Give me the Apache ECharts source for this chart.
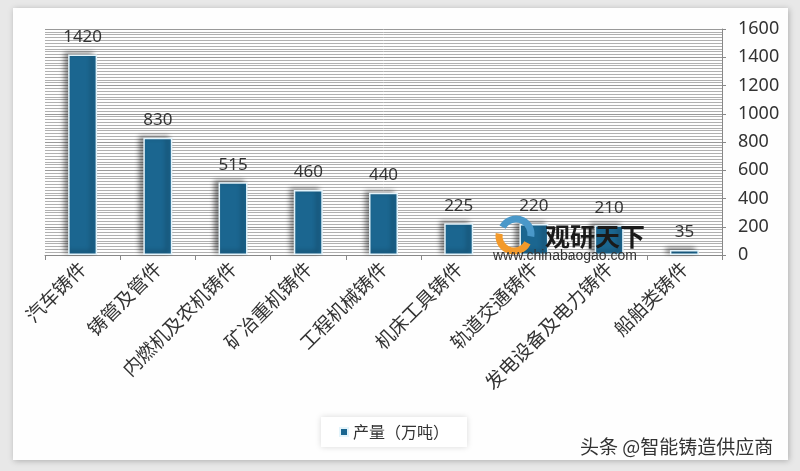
<!DOCTYPE html>
<html><head><meta charset="utf-8">
<script src="https://cdn.jsdelivr.net/npm/echarts@6/dist/echarts.min.js"></script>
<style>html,body{margin:0;padding:0;background:#e8e8e8;}#c{width:800px;height:471px;}</style>
</head><body><div id="c"></div>
<script>
var categories = ['汽车铸件','铸管及管件','内燃机及农机铸件','矿冶重机铸件','工程机械铸件','机床工具铸件','轨道交通铸件','发电设备及电力铸件','船舶类铸件'];
var production = [1420, 830, 515, 460, 440, 225, 220, 210, 35];
var seriesName = '产量（万吨）';
var yMin = 0, yMax = 1600, yStep = 200;

var chart = echarts.init(document.getElementById('c'));
chart.setOption({
  backgroundColor: '#e8e8e8',
  animation: false,
  graphic: [
    {type:'rect', z:-10, shape:{x:13,y:8,width:775,height:452}, style:{fill:'#fefefe', shadowBlur:6, shadowColor:'rgba(0,0,0,0.25)', shadowOffsetX:1, shadowOffsetY:1}},
    {type:'arc', z:50, shape:{cx:514,cy:236,r:15,startAngle:Math.PI*0.15,endAngle:Math.PI*1.05}, style:{stroke:'#f39a2b', lineWidth:7, fill:null}},
    {type:'arc', z:50, shape:{cx:516,cy:234,r:15,startAngle:Math.PI*1.15,endAngle:Math.PI*2.05}, style:{stroke:'#4a98c9', lineWidth:7, fill:null}},
    {type:'text', z:50, left:545, top:224, style:{text:'观研天下', font:'bold 25px "Noto Sans CJK SC"', fill:'#1a1a1a'}},
    {type:'text', z:50, left:493, top:249, style:{text:'www.chinabaogao.com', font:'14px "Liberation Sans"', fill:'#333'}},
    {type:'text', z:50, left:580, top:437, style:{text:'头条 @智能铸造供应商', font:'19px "Noto Sans CJK SC"', fill:'#333'}}
  ],
  legend: {
    bottom: 24, left: 321,
    itemWidth: 8, itemHeight: 8, icon: 'rect', itemGap: 8,
    padding: [7, 18, 7, 18],
    backgroundColor: '#ffffff',
    shadowBlur: 6, shadowColor: 'rgba(0,0,0,0.15)',
    textStyle: {fontSize: 16, color: '#333', fontFamily: 'Noto Sans CJK SC'},
    data: [seriesName]
  },
  grid: {left: 45, right: 78, top: 29, bottom: 216, containLabel: false},
  xAxis: {
    type: 'category', data: categories,
    axisLine: {lineStyle: {color: '#888'}},
    axisTick: {show: true, length: 5, lineStyle: {color: '#888'}},
    axisLabel: {interval: 0, rotate: 45, fontSize: 19, color: '#333', margin: 10, fontFamily: 'Noto Sans CJK SC'}
  },
  yAxis: {
    type: 'value', position: 'right', min: yMin, max: yMax, interval: yStep,
    axisLine: {show: true, lineStyle: {color: '#888'}},
    axisTick: {show: true, length: 4, lineStyle: {color: '#888'}},
    axisLabel: {fontSize: 18, color: '#333', margin: 16, fontFamily: 'Noto Sans', formatter: function(v){return String(v);}},
    splitLine: {show: true, lineStyle: {color: '#999'}},
    minorTick: {show: false, splitNumber: 10},
    minorSplitLine: {show: true, lineStyle: {color: '#b0b0b0'}}
  },
  series: [{
    name: seriesName, type: 'bar', data: production, barWidth: 29,
    itemStyle: {color: '#1b6690', borderColor: '#e4f4fb', borderWidth: 1.5,
      shadowColor: 'rgba(0,0,0,0.45)', shadowBlur: 5, shadowOffsetX: -4, shadowOffsetY: -2},
    label: {show: true, position: 'top', distance: 9, fontSize: 17, color: '#333', fontFamily: 'Noto Sans'}
  }]
});
</script></body></html>
